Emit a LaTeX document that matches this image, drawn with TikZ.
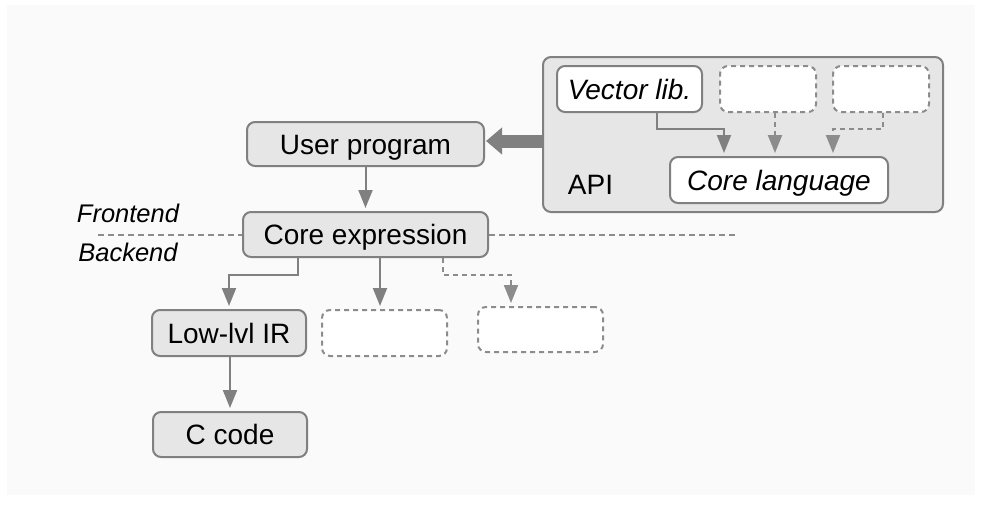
\documentclass[tikz,border=0pt]{standalone}
\usepackage{fontspec}
\setmainfont{Liberation Sans}
\usetikzlibrary{arrows.meta,calc}
\definecolor{bgc}{RGB}{250,250,250}
\definecolor{boxfill}{RGB}{230,230,230}
\definecolor{edge}{RGB}{128,128,128}
\definecolor{dedge}{RGB}{140,140,140}
\tikzset{
  base/.style={rounded corners=8pt, line width=2pt, inner sep=0pt, text height=20pt, text depth=0pt, font=\fontsize{28}{32}\selectfont},
  graybox/.style={base, draw=edge, fill=boxfill},
  whitebox/.style={base, draw=edge, fill=white},
  dashbox/.style={base, draw=dedge, fill=white, dash pattern=on 5pt off 4pt},
  conn/.style={draw=edge, line width=2pt, -{Triangle[length=18pt,width=14pt]}, shorten >=3pt},
  dconn/.style={conn, draw=dedge, dash pattern=on 5pt off 4pt},
  sideline/.style={draw=dedge, line width=2pt, dash pattern=on 6pt off 4pt},
  sidelabel/.style={inner sep=0pt, font=\fontsize{25.5}{30}\selectfont\itshape},
  bigarrow/.style={draw=edge, line width=13pt, -{Triangle[length=16pt,width=26pt]}, shorten >=1pt}
}
\begin{document}
\begin{tikzpicture}[x=1pt,y=-1pt]
\useasboundingbox (0,0) rectangle (987,507);
\fill[bgc] (7,5) rectangle (975,495);
% API group
\node[graybox, minimum width=400pt, minimum height=155pt] (api) at (743,134.5) {};
\node[inner sep=0pt, font=\fontsize{28}{32}\selectfont] (apil) at (590.5,185) {API};
\node[whitebox, minimum width=145pt, minimum height=46pt] (vl) at (629.5,89) {\itshape Vector lib.};
\node[dashbox, minimum width=96pt, minimum height=46pt] (da) at (768,89) {};
\node[dashbox, minimum width=96pt, minimum height=46pt] (db) at (881,89) {};
\node[whitebox, minimum width=218pt, minimum height=46pt] (cl) at (779,180) {\itshape Core language};
\draw[conn] ([xshift=27.5pt]vl.south) -- ++(0,16) -| ([xshift=-55pt]cl.north);
\draw[dconn] ([xshift=7pt]da.south) -- ([xshift=7pt]da.south |- cl.north);
\draw[dconn] ([xshift=2pt]db.south) -- ++(0,16) -| ([xshift=54pt]cl.north);
% main column
\node[graybox, minimum width=237pt, minimum height=44pt] (up) at (365.5,144) {User program};
\node[graybox, minimum width=245pt, minimum height=45pt] (ce) at (365.5,234.5) {Core expression};
\draw[bigarrow] ($(api.west |- up.east)+(0,-3)$) -- ($(up.east)+(0,-3)$);
\draw[conn] (up.south) -- (ce.north);
% frontend / backend
\coordinate (dl) at (98,234.5);
\coordinate (dr) at (738,234.5);
\draw[sideline] (dl) -- (ce.west);
\draw[sideline] (ce.east) -- (dr);
\node[sidelabel] (fe) at (128,213) {Frontend};
\node[sidelabel] (be) at (128,252) {Backend};
% backends
\node[graybox, minimum width=154pt, minimum height=46pt] (llir) at (229,333) {Low-lvl IR};
\node[dashbox, minimum width=125pt, minimum height=46pt] (d1) at (384.5,333) {};
\node[dashbox, minimum width=125pt, minimum height=45pt] (d2) at (540.5,329.5) {};
\node[graybox, minimum width=154pt, minimum height=45pt] (cc) at (230,434.5) {C code};
\draw[conn] ([xshift=-67.5pt]ce.south) -- ++(0,17) -| (llir.north);
\draw[conn] ([xshift=14.5pt]ce.south) -- ([xshift=14.5pt]ce.south |- d1.north);
\draw[dconn] ([xshift=77.5pt]ce.south) -- ++(0,17) -| ([xshift=-29.5pt]d2.north);
\draw[conn] ([xshift=1pt]llir.south) -- ([xshift=1pt]llir.south |- cc.north);
\end{tikzpicture}
\end{document}
